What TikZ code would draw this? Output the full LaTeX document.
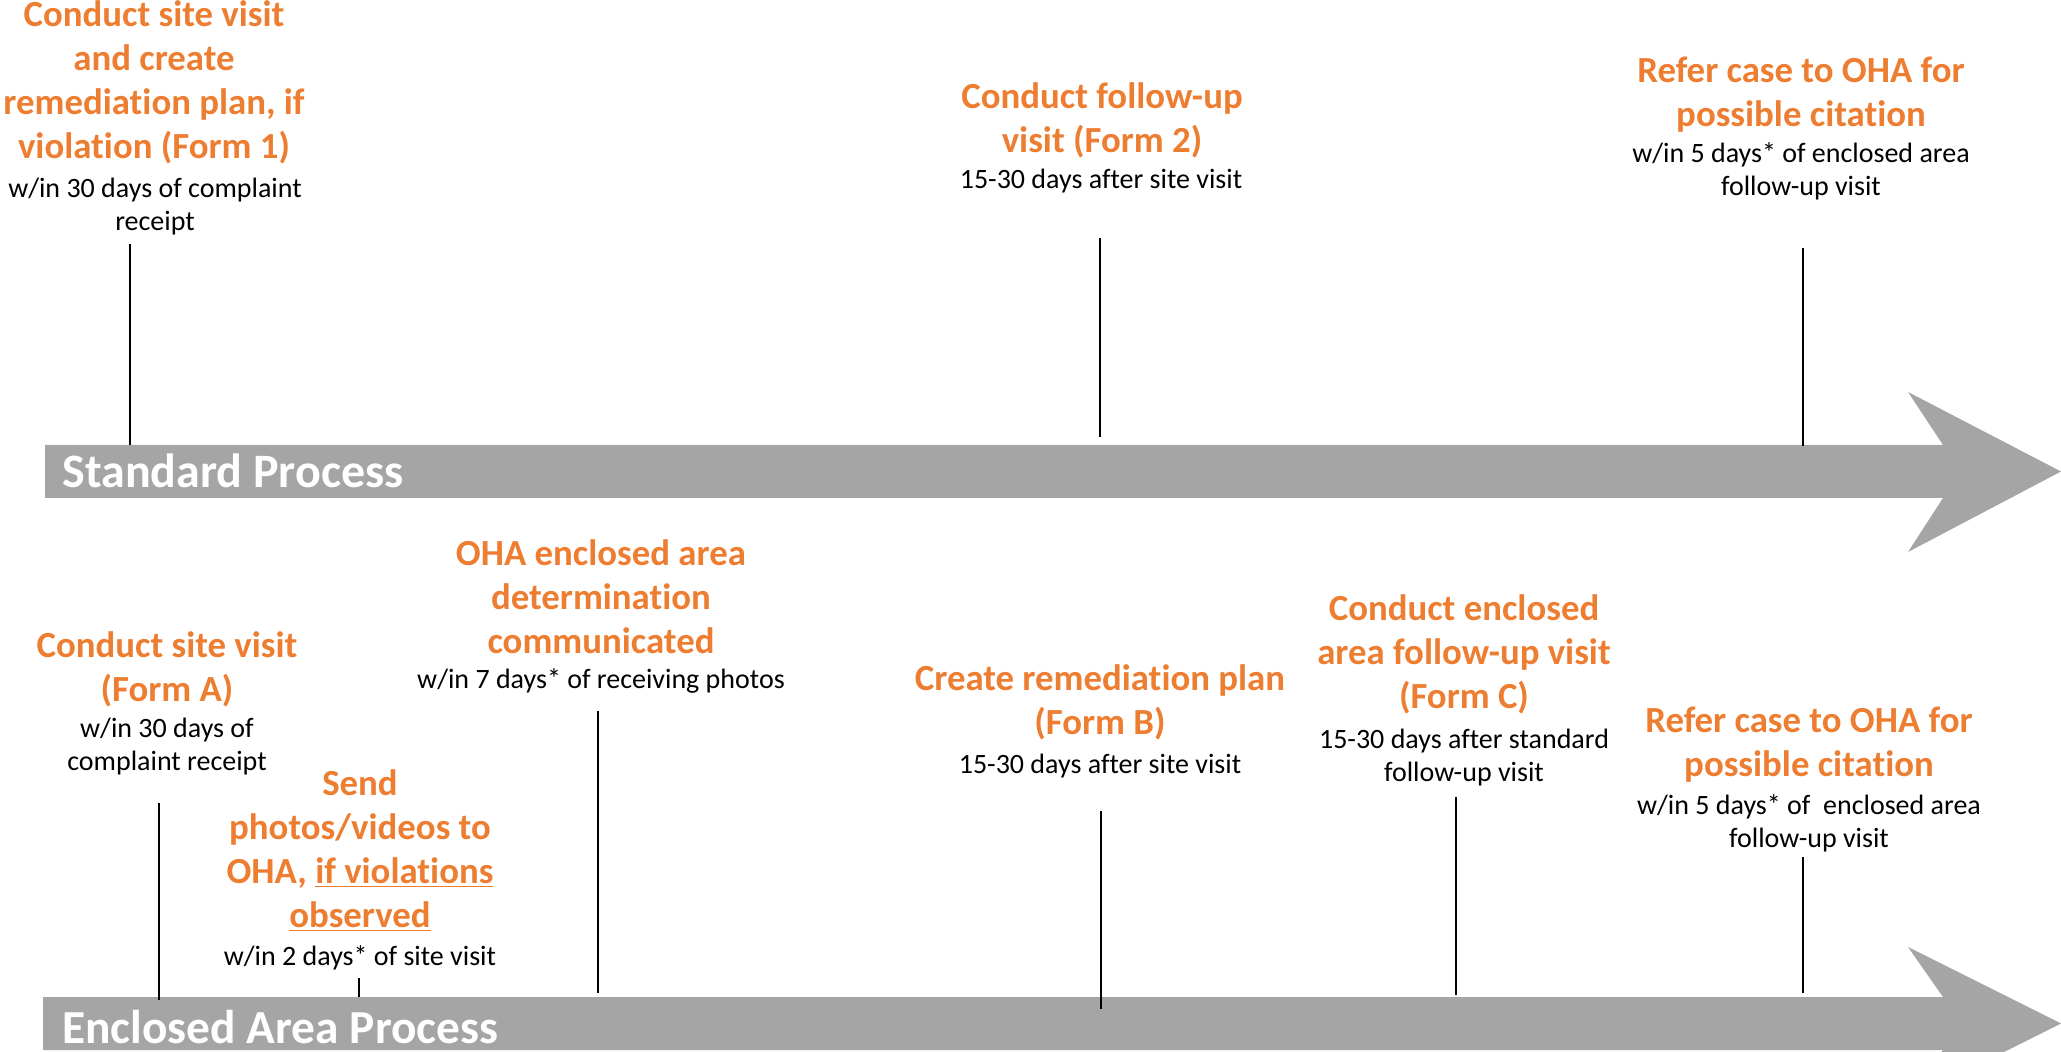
\documentclass[tikz,border=0pt]{standalone}
\usepackage{fontspec}
\setmainfont[Ligatures=NoCommon]{Carlito}
\definecolor{orng}{HTML}{ED7D31}
\definecolor{gry}{HTML}{A5A5A5}
\begin{document}
\begin{tikzpicture}[x=0.5pt,y=-0.5pt,
  title/.style={anchor=north, inner sep=0pt, align=center, text=orng, font=\bfseries\fontsize{18.4}{22}\selectfont},
  detail/.style={anchor=north, inner sep=0pt, align=center, text=black, font=\fontsize{14}{16.5}\selectfont},
  band/.style={fill=gry, draw=none},
  bandlabel/.style={anchor=base west, inner sep=0pt, text=white, font=\bfseries\fontsize{24}{28}\selectfont},
  tick/.style={line width=1pt, black}]
\useasboundingbox (0,0) rectangle (2061,1052);
\clip (0,0) rectangle (2061,1052);
% bands
\fill[band] (45,445) -- (1943,445) -- (1908,392) -- (2061,471.5) -- (1908,552) -- (1943,498) -- (45,498) -- cycle;
\fill[band] (43,997) -- (1943,997) -- (1908,947) -- (2061,1023.5) -- (1908,1100) -- (1943,1050) -- (43,1050) -- cycle;
\node[bandlabel] (sp) at (62,488) {Standard Process};
\node[bandlabel, font=\bfseries\fontsize{23.7}{28}\selectfont] (ep) at (62,1043) {Enclosed Area Process};
% standard process
\node[title] (t1) at (154,-6) {\rule{0pt}{16pt}Conduct site visit\\and create\\remediation plan, if\\violation (Form 1)};
\node[detail] (d1) at (155,173) {\rule{0pt}{12pt}w/in 30 days of complaint\\receipt};
\coordinate (a1) at (130,244); \coordinate (b1) at (130,445);
\draw[tick] (a1) -- (b1);
\node[title] (t2) at (1102,76) {\rule{0pt}{16pt}Conduct follow-up\\visit (Form 2)};
\node[detail] (d2) at (1101,164) {\rule{0pt}{12pt}15-30 days after site visit};
\coordinate (a2) at (1100,238); \coordinate (b2) at (1100,437);
\draw[tick] (a2) -- (b2);
\node[title] (t3) at (1801,50) {\rule{0pt}{16pt}Refer case to OHA for\\possible citation};
\node[detail] (d3) at (1801,138) {\rule{0pt}{12pt}w/in 5 days* of enclosed area\\follow-up visit};
\coordinate (a3) at (1803,248); \coordinate (b3) at (1803,446);
\draw[tick] (a3) -- (b3);
% enclosed area process
\node[title] (t4) at (601,533) {\rule{0pt}{16pt}OHA enclosed area\\determination\\communicated};
\node[detail] (d4) at (601,664) {\rule{0pt}{12pt}w/in 7 days* of receiving photos};
\coordinate (a4) at (598,711); \coordinate (b4) at (598,993);
\draw[tick] (a4) -- (b4);
\node[title] (t5) at (167,625) {\rule{0pt}{16pt}Conduct site visit\\(Form A)};
\node[detail] (d5) at (167,713) {\rule{0pt}{12pt}w/in 30 days of\\complaint receipt};
\coordinate (a5) at (159,803); \coordinate (b5) at (159,1000);
\draw[tick] (a5) -- (b5);
\node[title] (t6) at (360,763) {\rule{0pt}{16pt}Send\\photos/videos to\\OHA, \underline{if violations}\\\underline{observed}};
\node[detail] (d6) at (360,941) {\rule{0pt}{12pt}w/in 2 days* of site visit};
\coordinate (a6) at (359,978); \coordinate (b6) at (359,997);
\draw[tick] (a6) -- (b6);
\node[title] (t7) at (1100,658) {\rule{0pt}{16pt}Create remediation plan\\(Form B)};
\node[detail] (d7) at (1100,749) {\rule{0pt}{12pt}15-30 days after site visit};
\coordinate (a7) at (1101,811); \coordinate (b7) at (1101,1009);
\draw[tick] (a7) -- (b7);
\node[title] (t8) at (1464,588) {\rule{0pt}{16pt}Conduct enclosed\\area follow-up visit\\(Form C)};
\node[detail] (d8) at (1464,724) {\rule{0pt}{12pt}15-30 days after standard\\follow-up visit};
\coordinate (a8) at (1456,797); \coordinate (b8) at (1456,995);
\draw[tick] (a8) -- (b8);
\node[title] (t9) at (1809,700) {\rule{0pt}{16pt}Refer case to OHA for\\possible citation};
\node[detail] (d9) at (1809,790) {\rule{0pt}{12pt}w/in 5 days* of~ enclosed area\\follow-up visit};
\coordinate (a9) at (1803,857); \coordinate (b9) at (1803,993);
\draw[tick] (a9) -- (b9);
\end{tikzpicture}
\end{document}
